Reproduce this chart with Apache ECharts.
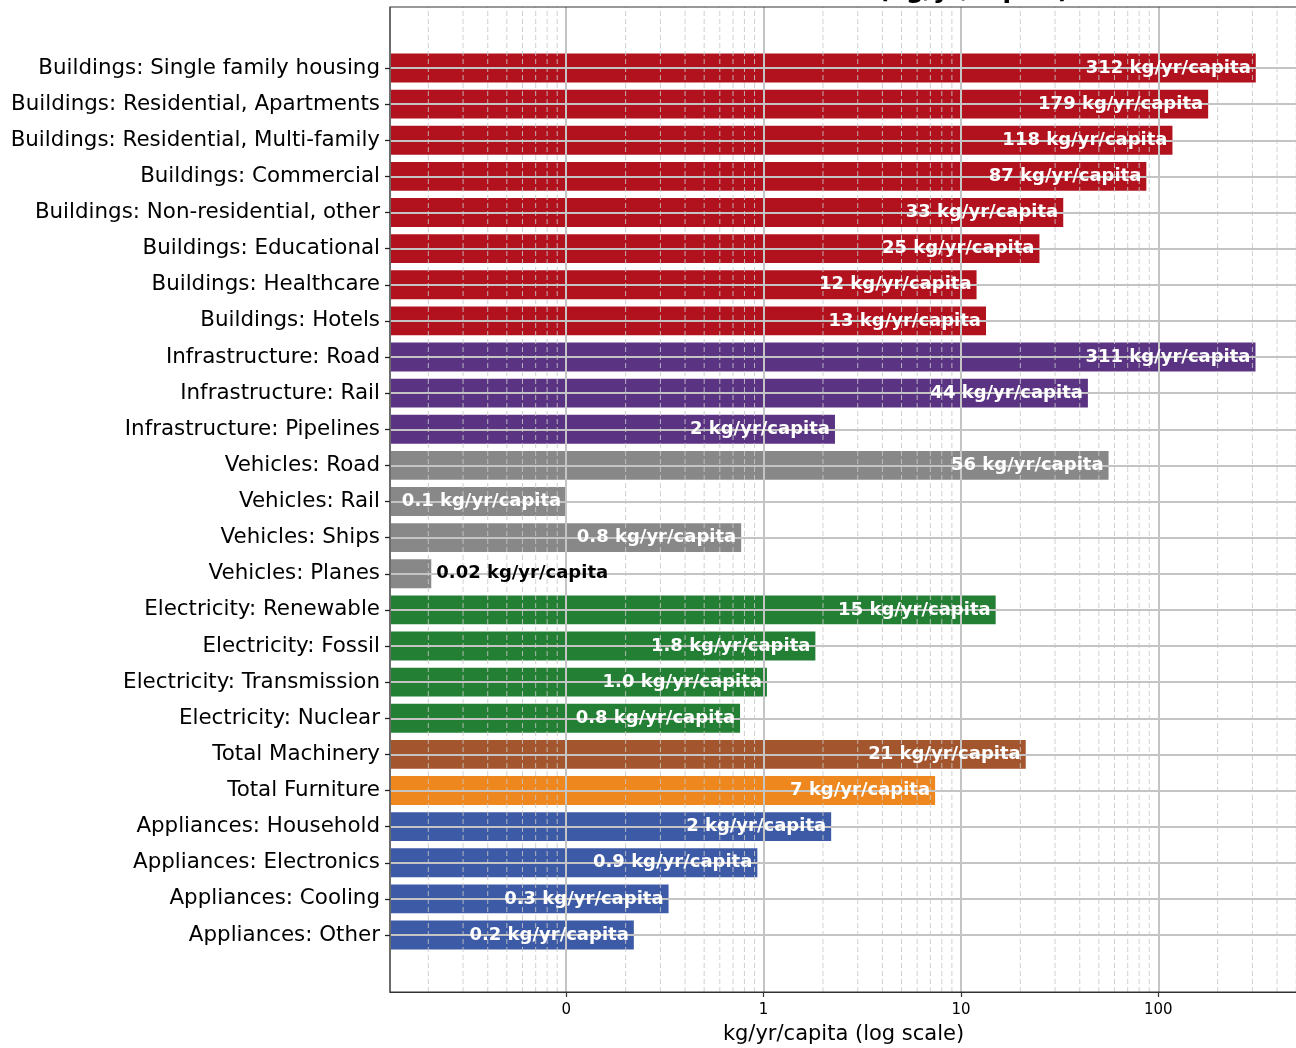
<!DOCTYPE html>
<html>
<head>
<meta charset="utf-8">
<script src="https://cdn.jsdelivr.net/npm/echarts@6/dist/echarts.min.js"></script>
<style>
html,body{margin:0;padding:0;background:#fff;}
#chart{width:1296px;height:1048px;}
</style>
</head>
<body>
<div id="chart"></div>
<script>
// ---- data ----
const categories = [
  'Buildings: Single family housing',
  'Buildings: Residential, Apartments',
  'Buildings: Residential, Multi-family',
  'Buildings: Commercial',
  'Buildings: Non-residential, other',
  'Buildings: Educational',
  'Buildings: Healthcare',
  'Buildings: Hotels',
  'Infrastructure: Road',
  'Infrastructure: Rail',
  'Infrastructure: Pipelines',
  'Vehicles: Road',
  'Vehicles: Rail',
  'Vehicles: Ships',
  'Vehicles: Planes',
  'Electricity: Renewable',
  'Electricity: Fossil',
  'Electricity: Transmission',
  'Electricity: Nuclear',
  'Total Machinery',
  'Total Furniture',
  'Appliances: Household',
  'Appliances: Electronics',
  'Appliances: Cooling',
  'Appliances: Other'
];
const values = [312, 179, 118, 87, 33, 25, 12, 13.4, 311, 44, 2.3, 56, 0.1, 0.77, 0.0207,
                15, 1.83, 1.04, 0.76, 21.3, 7.4, 2.2, 0.93, 0.33, 0.22];
const groups = ['Buildings','Buildings','Buildings','Buildings','Buildings','Buildings','Buildings','Buildings',
                'Infrastructure','Infrastructure','Infrastructure',
                'Vehicles','Vehicles','Vehicles','Vehicles',
                'Electricity','Electricity','Electricity','Electricity',
                'Machinery','Furniture',
                'Appliances','Appliances','Appliances','Appliances'];
const groupColors = {
  Buildings: '#b2121e',
  Infrastructure: '#5b3383',
  Vehicles: '#888888',
  Electricity: '#237f33',
  Machinery: '#a3552d',
  Furniture: '#ee871e',
  Appliances: '#3c5aa5'
};
const unit = 'kg/yr/capita';
const majorTickLabels = {'-1': '0', '0': '1', '1': '10', '2': '100'};
const minorMultipliers = [2, 3, 4, 5, 6, 7, 8, 9];
const minorDecades = [0.01, 0.1, 1, 10, 100];
const titleText = 'Material Inflows (kg/yr/capita)';
const xAxisName = 'kg/yr/capita (log scale)';

// ---- axis range ----
const X_MIN = 0.01279, X_MAX = 504.7;
const minorTicks = [];
minorDecades.forEach(d => minorMultipliers.forEach(m => {
  const v = +(d * m).toPrecision(6);
  if (v > X_MIN && v < X_MAX) minorTicks.push(v);
}));

function fmt(v) {
  if (v >= 2) return Math.round(v) + ' ' + unit;
  if (v >= 0.1) return v.toFixed(1) + ' ' + unit;
  return v.toFixed(2) + ' ' + unit;
}

const barData = values.map((v, i) => [v, i]);
const FONT = '"DejaVu Sans", "Liberation Sans", sans-serif';

const chart = echarts.init(document.getElementById('chart'), null, {renderer: 'canvas'});
const GL = 390, GR = -1;

chart.setOption({
  animation: false,
  backgroundColor: '#ffffff',
  graphic: [{
    type: 'text', x: 856, y: -9, z: 20,
    style: {text: titleText, align: 'center', verticalAlign: 'middle',
            font: 'bold 25px ' + FONT, fill: '#000'}
  }],
  grid: [
    {left: GL, right: GR, top: 7, bottom: 56, show: true, borderColor: '#333', borderWidth: 1.2,
     backgroundColor: 'transparent', z: 4, outerBoundsMode: 'none', containLabel: false},
    {left: GL, right: GR, top: 68, bottom: 113, show: false, outerBoundsMode: 'none', containLabel: false}
  ],
  xAxis: [
    {
      type: 'log', gridIndex: 0, min: X_MIN, max: X_MAX, logBase: 10, z: 3,
      axisLine: {show: true, lineStyle: {color: '#333', width: 1.2}},
      axisTick: {show: true, length: 5, lineStyle: {color: '#333', width: 1.2}},
      axisLabel: {
        show: true, fontSize: 15, color: '#000', fontFamily: FONT, margin: 11,
        showMinLabel: false, showMaxLabel: false,
        formatter: function (v) {
          const k = Math.round(Math.log10(v));
          if (Math.abs(Math.log10(v) - k) > 1e-6) return '';
          return majorTickLabels[String(k)] || '';
        }
      },
      splitLine: {show: true, lineStyle: {color: '#c4c4c4', width: 2}},
      name: xAxisName, nameLocation: 'middle', nameGap: 32,
      nameTextStyle: {fontSize: 21, color: '#000', fontFamily: FONT}
    },
    {
      type: 'log', gridIndex: 1, min: X_MIN, max: X_MAX, logBase: 10, show: false
    }
  ],
  yAxis: [
    {type: 'value', gridIndex: 0, min: 0, max: 1, show: false},
    {
      type: 'category', gridIndex: 1, data: categories, inverse: true, boundaryGap: false, z: 3,
      axisLine: {show: false},
      axisTick: {show: true, length: 5, lineStyle: {color: '#222', width: 1.3}},
      axisLabel: {fontSize: 21.4, color: '#000', fontFamily: FONT, margin: 10, interval: 0,
                  padding: [8, 0, 0, 0]},
      splitLine: {show: true, interval: 0, lineStyle: {color: '#c4c4c4', width: 2}}
    }
  ],
  series: [
    {
      type: 'custom', name: 'bars', xAxisIndex: 1, yAxisIndex: 1, z: 2,
      data: barData, encode: {x: 0, y: 1},
      renderItem: function (params, api) {
        const v = api.value(0), ci = api.value(1);
        const p1 = api.coord([v, ci]);
        const p0 = api.coord([X_MIN, ci]);
        const band = Math.abs(api.coord([v, 1])[1] - api.coord([v, 0])[1]);
        const h = band * 0.8;
        return {
          type: 'rect',
          shape: {x: p0[0], y: p1[1] - h / 2, width: p1[0] - p0[0], height: h},
          style: {fill: groupColors[groups[params.dataIndex]]}
        };
      }
    },
    {
      type: 'custom', name: 'minorGrid', xAxisIndex: 0, yAxisIndex: 0, z: 3, silent: true,
      data: minorTicks.map(v => [v]), encode: {x: 0},
      renderItem: function (params, api) {
        const v = api.value(0);
        const a = api.coord([v, 0]), b = api.coord([v, 1]);
        return {
          type: 'line',
          shape: {x1: a[0], y1: a[1], x2: b[0], y2: b[1]},
          style: {stroke: 'rgba(200,200,200,0.85)', lineWidth: 1, lineDash: [5, 3]}
        };
      }
    },
    {
      type: 'custom', name: 'labels', xAxisIndex: 1, yAxisIndex: 1, z: 10, silent: true,
      data: barData, encode: {x: 0, y: 1},
      renderItem: function (params, api) {
        const v = api.value(0), ci = api.value(1);
        const p1 = api.coord([v, ci]);
        const outside = v < 0.05;
        return {
          type: 'text',
          style: {
            text: fmt(v),
            x: outside ? p1[0] + 5 : p1[0] - 5,
            y: p1[1],
            align: outside ? 'left' : 'right',
            verticalAlign: 'middle',
            font: 'bold 18px ' + FONT,
            fill: outside ? '#000' : '#fff'
          }
        };
      }
    }
  ]
});
</script>
</body>
</html>
